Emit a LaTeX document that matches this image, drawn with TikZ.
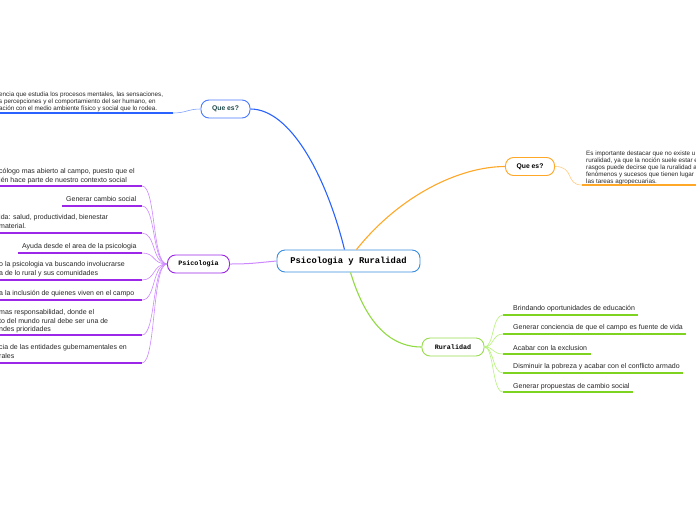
\documentclass[tikz,border=0pt]{standalone}
\usepackage{fontspec}
\setmainfont{Liberation Sans}
\newfontfamily\monof{Liberation Mono}
\definecolor{cblue}{HTML}{3A8DDE}
\definecolor{qblue}{HTML}{2962FF}
\definecolor{qorange}{HTML}{FFA726}
\definecolor{ppurple}{HTML}{9C27E8}
\definecolor{lpurple}{HTML}{CC88FF}
\definecolor{ggreen}{HTML}{7ED321}
\definecolor{lgreen}{HTML}{B5F27A}
\definecolor{qtext}{HTML}{1E4A4A}
\tikzset{
  topic/.style={draw, rounded corners=8pt, fill=white, line width=0.9pt, inner sep=0pt},
  qnode/.style={topic, minimum width=49pt, minimum height=18pt, font=\bfseries\fontsize{6.8}{7}\selectfont},
  subnode/.style={topic, minimum width=62pt, minimum height=18pt, font=\monof\bfseries\fontsize{6.7}{7}\selectfont},
  txt/.style={font=\fontsize{7}{8.6}\selectfont, text=black!85, inner sep=0pt, align=left},
  stxt/.style={font=\fontsize{6.3}{7}\selectfont, text=black!85, inner sep=0pt, align=left},
  purl/.style={draw=ppurple, line width=1.2pt},
  purc/.style={draw=lpurple, line width=0.6pt},
  grl/.style={draw=ggreen, line width=1.2pt},
  grc/.style={draw=lgreen, line width=0.6pt},
}
\begin{document}
\begin{tikzpicture}[x=1pt,y=-1pt]
\useasboundingbox (0,0) rectangle (696,520);

% main topics
\node[topic, draw=cblue, minimum width=143pt, minimum height=22pt, font=\monof\bfseries\fontsize{8.8}{10}\selectfont] (c) at (348.5,261) {Psicologia y Ruralidad};
\node[qnode, draw=qblue!85, text=qtext] (q1) at (225.5,109) {Que es?};
\node[qnode, draw=qorange, text=black] (q2) at (530,166.5) {Que es?};
\node[subnode, draw=ppurple] (p) at (198.5,264) {Psicologia};
\node[subnode, draw=ggreen!80] (r) at (453,347) {Ruralidad};

% main connectors
\draw[qblue, line width=1.1pt] ([xshift=-4pt]c.north) .. controls (326,175) and (290,109) .. (q1.east);
\draw[qorange, line width=1.1pt] ([xshift=8pt]c.north) .. controls (400,195) and (460,166.5) .. (q2.west);
\draw[ggreen!85, line width=1.1pt] ([xshift=2pt]c.south) .. controls (368,330) and (395,347) .. (r.west);
\draw[lpurple, line width=1pt] (c.west) .. controls (255,263) and (250,264) .. (p.east);

% blue Que es text
\node[stxt, anchor=north west] (t1) at (-1,92) {encia que estudia los procesos mentales, las sensaciones,\\s percepciones y el comportamiento del ser humano, en\\ación con el medio ambiente físico y social que lo rodea.};
\coordinate (b1) at (173,113);
\coordinate (b0) at (0,113);
\draw[qblue, line width=1.2pt] (b0) -- (b1);
\draw[qblue!60, line width=0.6pt] (q1.west) .. controls (188,109) and (186,113) .. (b1);

% orange Que es text
\node[stxt, anchor=north west] (t2) at (586,150.5) {Es importante destacar que no existe u\\ruralidad, ya que la noción suele estar e\\rasgos puede decirse que la ruralidad al\\fenómenos y sucesos que tienen lugar e\\las tareas agropecuarias.};
\coordinate (o1) at (582,185);
\coordinate (o2) at (696,185);
\draw[qorange, line width=1.2pt] (o1) -- (o2);
\draw[qorange!60, line width=0.6pt] (q2.east) .. controls (575,166.5) and (565,185) .. (o1);

% Psicologia children
\node[txt, anchor=north west] (a1) at (-1,168.5) {cólogo mas abierto al campo, puesto que el\\ién hace parte de nuestro contexto social};
\node[txt, anchor=north west] (a2) at (66,196) {Generar cambio social};
\node[txt, anchor=north west] (a3) at (-1,214.5) {ida: salud, productividad, bienestar\\material.};
\node[txt, anchor=north west] (a4) at (22,243) {Ayuda desde el area de la psicologia};
\node[txt, anchor=north west] (a5) at (-1,261.5) {o la psicologia va buscando involucrarse\\a de lo rural y sus comunidades};
\node[txt, anchor=north west] (a6) at (-1,290) {a la inclusión de quienes viven en el campo};
\node[txt, anchor=north west] (a7) at (-1,309.5) {mas responsabilidad, donde el\\to del mundo rural debe ser una de\\ndes prioridades};
\node[txt, anchor=north west] (a8) at (-1,344.5) {cia de las entidades gubernamentales en\\rales};

\foreach \n/\y/\xl in {1/186/0, 2/206/62, 3/233/0, 4/253/18, 5/280/0, 6/300/0, 7/335/0, 8/363/0}{
  \coordinate (pe\n) at (142,\y);
  \coordinate (ps\n) at (\xl,\y);
  \draw[purl] (ps\n) -- (pe\n);
  \draw[purc] (p.west) .. controls (152,264) and (156,\y) .. (pe\n);
}

% Ruralidad children
\node[txt, anchor=west] (g1) at (513,309) {Brindando oportunidades de educación};
\node[txt, anchor=west] (g2) at (513,328) {Generar conciencia de que el campo es fuente de vida};
\node[txt, anchor=west] (g3) at (513,348) {Acabar con la exclusion};
\node[txt, anchor=west] (g4) at (513,367) {Disminuir la pobreza y acabar con el conflicto armado};
\node[txt, anchor=west] (g5) at (513,387) {Generar propuestas de cambio social};

\foreach \n/\y/\xr in {1/315/638, 2/334/686, 3/354/591, 4/373/683, 5/392/633}{
  \coordinate (gs\n) at (503,\y);
  \coordinate (ge\n) at (\xr,\y);
  \draw[grl] (gs\n) -- (ge\n);
  \draw[grc] (r.east) .. controls (494,347) and (492,\y) .. (gs\n);
}
\end{tikzpicture}
\end{document}
